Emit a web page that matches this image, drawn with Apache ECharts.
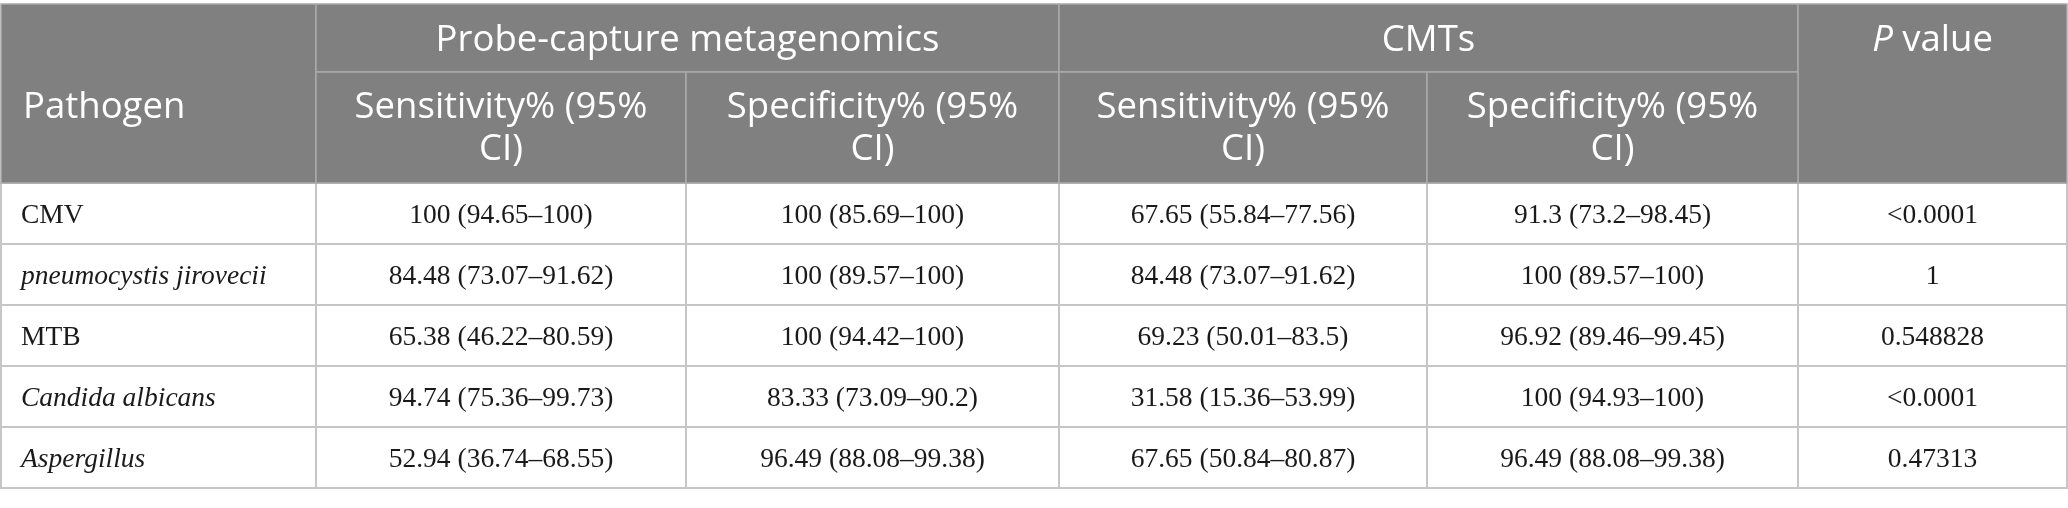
<!DOCTYPE html>
<html>
<head>
<meta charset="utf-8">
<script src="https://cdn.jsdelivr.net/npm/echarts@6/dist/echarts.min.js"></script>
<style>
  html, body { margin: 0; padding: 0; background: #fff; }
  #table { width: 2068px; height: 508px; }
</style>
</head>
<body>
<div id="table"></div>
<script>
// table contents
var pathogens = ['CMV', 'pneumocystis jirovecii', 'MTB', 'Candida albicans', 'Aspergillus'];
var pathogenItalic = [false, true, false, true, true];
var probeSensitivity = ['100 (94.65–100)', '84.48 (73.07–91.62)', '65.38 (46.22–80.59)', '94.74 (75.36–99.73)', '52.94 (36.74–68.55)'];
var probeSpecificity = ['100 (85.69–100)', '100 (89.57–100)', '100 (94.42–100)', '83.33 (73.09–90.2)', '96.49 (88.08–99.38)'];
var cmtSensitivity = ['67.65 (55.84–77.56)', '84.48 (73.07–91.62)', '69.23 (50.01–83.5)', '31.58 (15.36–53.99)', '67.65 (50.84–80.87)'];
var cmtSpecificity = ['91.3 (73.2–98.45)', '100 (89.57–100)', '96.92 (89.46–99.45)', '100 (94.93–100)', '96.49 (88.08–99.38)'];
var pValues = ['<0.0001', '1', '0.548828', '<0.0001', '0.47313'];

var groupHeaders = ['Probe-capture metagenomics', 'CMTs'];
var subHeaders = ['Sensitivity% (95%\nCI)', 'Specificity% (95%\nCI)', 'Sensitivity% (95%\nCI)', 'Specificity% (95%\nCI)'];

// layout (axis units = px)
var colEdges = [1, 316, 686, 1059, 1427, 1798, 2067];
var rowEdges = [4, 72, 183, 244, 305, 366, 427, 488];

var HEAD_BG = '#7f807f';
var HEAD_LINE = '#a9aaa9';
var BODY_LINE = '#c6c6c6';
var SANS = '"Open Sans", "Noto Sans", sans-serif';
var SERIF = '"Liberation Serif", "DejaVu Serif", serif';
var HEAD_SIZE = 36.5;

var chart = echarts.init(document.getElementById('table'));

// header cells: [col0, col1, row0, row1, text, align, textY]
var headerData = [
  [0, 1, 0, 2, 'Pathogen', 'left', 108],
  [1, 3, 0, 1, groupHeaders[0], 'center', 41],
  [3, 5, 0, 1, groupHeaders[1], 'center', 41],
  [5, 6, 0, 2, 'P value', 'center', 41]
];
for (var h = 0; h < subHeaders.length; h++) {
  headerData.push([h + 1, h + 2, 1, 2, subHeaders[h], 'center', -1]);
}

// body cells: [col, row, text, italic]
var bodyData = [];
var cols = [pathogens, probeSensitivity, probeSpecificity, cmtSensitivity, cmtSpecificity, pValues];
for (var r = 0; r < pathogens.length; r++) {
  for (var c = 0; c < cols.length; c++) {
    bodyData.push([c, r, cols[c][r], c === 0 && pathogenItalic[r] ? 1 : 0]);
  }
}

function cellRect(api, c0, c1, r0, r1) {
  var p0 = api.coord([colEdges[c0], rowEdges[r0]]);
  var p1 = api.coord([colEdges[c1], rowEdges[r1]]);
  return { x: p0[0], y: p0[1], width: p1[0] - p0[0], height: p1[1] - p0[1] };
}

function renderHeader(params, api) {
  var d = headerData[params.dataIndex];
  var rect = cellRect(api, d[0], d[1], d[2], d[3]);
  var tx = d[5] === 'left' ? rect.x + 22 : rect.x + rect.width / 2;
  var ty = d[6] > 0 ? api.coord([0, d[6]])[1] : rect.y + rect.height / 2 + 1;
  var textStyle;
  if (d[4] === 'P value') {
    textStyle = {
      text: '{i|P}{n| value}',
      x: tx, y: ty, align: 'center', verticalAlign: 'middle',
      rich: {
        i: { fontFamily: SANS, fontSize: HEAD_SIZE, fontStyle: 'italic', fill: '#fff' },
        n: { fontFamily: SANS, fontSize: HEAD_SIZE, fill: '#fff' }
      }
    };
  } else {
    textStyle = {
      text: d[4], x: tx, y: ty, align: d[5], verticalAlign: 'middle',
      fontFamily: SANS, fontSize: HEAD_SIZE, lineHeight: 42, fill: '#fff'
    };
  }
  return {
    type: 'group',
    children: [
      { type: 'rect', shape: rect, style: { fill: HEAD_BG, stroke: HEAD_LINE, lineWidth: 1.5 } },
      { type: 'text', style: textStyle }
    ]
  };
}

function renderBody(params, api) {
  var d = bodyData[params.dataIndex];
  var rect = cellRect(api, d[0], d[0] + 1, d[1] + 2, d[1] + 3);
  var left = d[0] === 0;
  return {
    type: 'group',
    children: [
      { type: 'rect', shape: rect, style: { fill: '#fff', stroke: BODY_LINE, lineWidth: 2 } },
      {
        type: 'text',
        style: {
          text: d[2],
          x: left ? rect.x + 20 : rect.x + rect.width / 2,
          y: rect.y + rect.height / 2 + 2,
          align: left ? 'left' : 'center',
          verticalAlign: 'middle',
          fontFamily: SERIF,
          fontSize: 27.5,
          fontStyle: d[3] ? 'italic' : 'normal',
          fill: '#1a1a1a'
        }
      }
    ]
  };
}

var option = {
  animation: false,
  backgroundColor: '#fff',
  grid: { left: 0, right: 0, top: 0, bottom: 0 },
  xAxis: { type: 'value', min: 0, max: 2068, show: false },
  yAxis: { type: 'value', min: 0, max: 508, inverse: true, show: false },
  series: [
    {
      type: 'custom',
      name: 'body',
      renderItem: renderBody,
      data: bodyData.map(function (d) { return [colEdges[d[0]], rowEdges[d[1] + 2]]; }),
      z: 1
    },
    {
      type: 'custom',
      name: 'header',
      renderItem: renderHeader,
      data: headerData.map(function (d) { return [colEdges[d[0]], rowEdges[d[2]]]; }),
      z: 2
    }
  ]
};

chart.setOption(option);
</script>
</body>
</html>
